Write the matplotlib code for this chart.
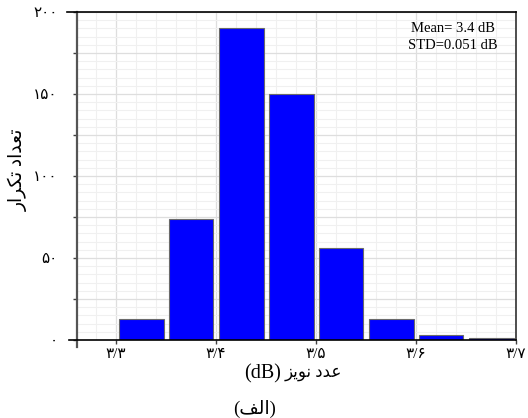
import numpy as np
import matplotlib
matplotlib.use('Agg')
import matplotlib.pyplot as plt
from matplotlib.ticker import MultipleLocator, FixedLocator

# histogram data (500 samples)
bin_edges = [3.30, 3.35, 3.40, 3.45, 3.50, 3.55, 3.60, 3.65, 3.70]
counts = [13, 74, 190, 150, 56, 13, 3, 1]

x_ticks = [3.3, 3.4, 3.5, 3.6, 3.7]
x_tick_labels = ['۳/۳', '۳/۴', '۳/۵', '۳/۶', '۳/۷']
y_ticks = [0, 25, 50, 75, 100, 125, 150, 175, 200]
y_tick_labels = ['۰', '', '۵۰', '', '۱۰۰', '', '۱۵۰', '', '۲۰۰']

# persian text, already shaped and in visual order
ylabel_txt = '\uFEAD\uFE8D\uFEAE\uFEDC\uFE97 \uFEA9\uFE8D\uFEAA\uFECC\uFE97'
xlabel_fa = '\uFEB0\uFEF3\uFEEE\uFEE7 \uFEA9\uFEAA\uFECB'
xlabel_unit = '(dB)'
caption_txt = '(\uFED2\uFEDF\uFE8D)'
stats_txt = 'Mean= 3.4 dB\nSTD=0.051 dB'

fam = ['Liberation Serif', 'DejaVu Sans']


def main():
    fig = plt.figure(figsize=(5.28, 4.18), dpi=100)
    ax = fig.add_axes([77 / 528, 1 - 340 / 418, 439 / 528, 328 / 418])

    centers = [(a + b) / 2 for a, b in zip(bin_edges[:-1], bin_edges[1:])]
    ax.hist(centers, bins=bin_edges, weights=counts, rwidth=0.9,
            color='#0000ff', edgecolor='#6a6a6a', linewidth=0.8)

    ax.set_xlim(3.261, 3.7)
    ax.set_ylim(0, 200)

    ax.xaxis.set_major_locator(FixedLocator(x_ticks))
    ax.set_xticklabels(x_tick_labels)
    ax.yaxis.set_major_locator(FixedLocator(y_ticks))
    ax.set_yticklabels(y_tick_labels)
    ax.xaxis.set_minor_locator(MultipleLocator(0.02))
    ax.yaxis.set_minor_locator(MultipleLocator(5))

    for lab in ax.get_xticklabels() + ax.get_yticklabels():
        lab.set_family(fam)
        lab.set_fontsize(11)

    ax.tick_params(which='major', direction='out', length=3, width=1, color='#404040')
    ax.tick_params(axis='y', pad=11)
    ax.tick_params(axis='x', pad=3)
    ax.tick_params(which='minor', length=0)

    ax.set_axisbelow(True)
    ax.grid(which='major', color='#dedede', linewidth=0.9)
    ax.grid(which='minor', color='#f0f0f0', linewidth=0.8)

    # axis lines
    ax.spines['left'].set_color('#555555')
    ax.spines['left'].set_linewidth(1.6)
    ax.spines['left'].set_bounds(-4.3, 200)
    ax.spines['bottom'].set_color('black')
    ax.spines['bottom'].set_linewidth(1.2)
    ax.spines['bottom'].set_bounds(3.253, 3.7)
    ax.spines['top'].set_color('black')
    ax.spines['top'].set_linewidth(1.2)
    ax.spines['top'].set_bounds(3.251, 3.7)
    ax.spines['right'].set_color('#303030')
    ax.spines['right'].set_linewidth(1.2)

    ax.text(0.8565, 0.968, stats_txt, transform=ax.transAxes, ha='center', va='top',
            multialignment='center', fontsize=10.5, family='Liberation Serif',
            linespacing=1.35)

    ax.set_ylabel(ylabel_txt, family=fam, fontsize=13.5)
    ax.yaxis.set_label_coords(-0.113, 0.52)

    # x label: unit in serif, persian words to its right
    fig.text(281 / 528, 1 - 374 / 418, xlabel_unit, ha='right', va='center',
             family='Liberation Serif', fontsize=14.5)
    fig.text(285 / 528, 1 - 373 / 418, xlabel_fa, ha='left', va='center',
             family=fam, fontsize=12)

    fig.text(255 / 528, 1 - 409 / 418, caption_txt, ha='center', va='center',
             family=fam, fontsize=13.5)

    fig.savefig('out.png', dpi=100)


if __name__ == '__main__':
    main()
